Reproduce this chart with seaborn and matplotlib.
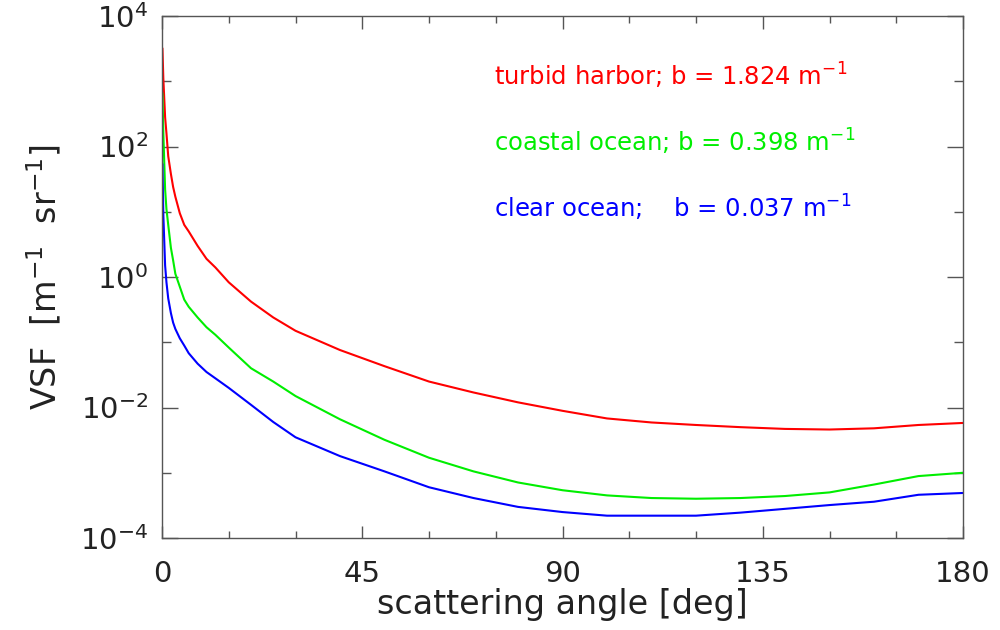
import numpy as np
import pandas as pd
import matplotlib
matplotlib.use("Agg")
import matplotlib.pyplot as plt
from matplotlib.ticker import FixedLocator, LogFormatterSciNotation, NullFormatter
import seaborn as sns

# Petzold volume scattering functions (514 nm)
angle_deg = [0.1, 0.3, 0.7, 1.0, 1.4, 2.0, 2.5, 3.0, 4.0, 5.0, 6.0, 8.0, 10,
             12, 15, 20, 25, 30, 40, 50, 60, 70, 80, 90, 100, 110, 120, 130,
             140, 150, 160, 170, 180]

vsf_turbid = [3.2e3, 1.1e3, 2.8e2, 160, 71, 38, 24, 17, 9.5, 6.3, 5.0, 3.0,
              1.9, 1.4, 0.83, 0.42, 0.24, 0.15, 0.076, 0.043, 0.025, 0.017,
              0.012, 8.9e-3, 6.8e-3, 5.9e-3, 5.4e-3, 5.0e-3, 4.7e-3, 4.6e-3,
              4.8e-3, 5.4e-3, 5.8e-3]

vsf_coastal = [660, 160, 22, 11, 6.3, 2.8, 1.8, 1.12, 0.71, 0.45, 0.35, 0.24,
               0.17, 0.13, 0.083, 0.040, 0.025, 0.015, 6.6e-3, 3.2e-3, 1.7e-3,
               1.05e-3, 7.1e-4, 5.4e-4, 4.5e-4, 4.1e-4, 4.0e-4, 4.1e-4, 4.4e-4,
               5.0e-4, 6.6e-4, 8.9e-4, 1.0e-3]

vsf_clear = [54, 8.9, 1.5, 0.83, 0.47, 0.28, 0.20, 0.16, 0.115, 0.089, 0.068,
             0.047, 0.035, 0.028, 0.020, 0.011, 6.0e-3, 3.5e-3, 1.8e-3, 1.05e-3,
             6.0e-4, 4.1e-4, 3.0e-4, 2.5e-4, 2.2e-4, 2.2e-4, 2.2e-4, 2.45e-4,
             2.8e-4, 3.2e-4, 3.6e-4, 4.6e-4, 4.9e-4]

water_types = ["turbid harbor", "coastal ocean", "clear ocean"]
labels = ["turbid harbor; b = 1.824 m$^{-1}$",
          "coastal ocean; b = 0.398 m$^{-1}$",
          "clear ocean;    b = 0.037 m$^{-1}$"]
colors = ["#ff0000", "#00ee00", "#0000ff"]

x_ticks = [0, 45, 90, 135, 180]
y_major = [1e-4, 1e-2, 1e0, 1e2, 1e4]
y_minor = [1e-3, 1e-1, 1e1, 1e3]

df = pd.concat([
    pd.DataFrame({"angle": angle_deg, "vsf": v, "water": w})
    for v, w in zip([vsf_turbid, vsf_coastal, vsf_clear], water_types)
])

sns.set_style("ticks")
plt.rcParams["font.family"] = ["DejaVu Sans"]
text_color = "#222222"
axis_color = "#555555"

fig = plt.figure(figsize=(10, 6.3), dpi=100)
ax = fig.add_axes([0.162, 0.146, 0.801, 0.8286])

sns.lineplot(data=df, x="angle", y="vsf", hue="water", hue_order=water_types,
             palette=dict(zip(water_types, colors)), estimator=None, sort=False,
             linewidth=1.5, legend=False, ax=ax)

ax.set_yscale("log")
ax.set_xlim(0, 180)
ax.set_ylim(1e-4, 1e4)

ax.xaxis.set_major_locator(FixedLocator(x_ticks))
ax.xaxis.set_minor_locator(FixedLocator(np.arange(0, 181, 15)))
ax.yaxis.set_major_locator(FixedLocator(y_major))
ax.yaxis.set_minor_locator(FixedLocator(y_minor))
ax.yaxis.set_major_formatter(LogFormatterSciNotation())
ax.yaxis.set_minor_formatter(NullFormatter())

ax.tick_params(axis="both", which="both", direction="in", top=True, right=True,
               color=axis_color, labelcolor=text_color, labelsize=21, width=1.0)
ax.tick_params(axis="x", which="major", length=9, pad=16)
ax.tick_params(axis="x", which="minor", length=5)
ax.tick_params(axis="y", which="major", length=11.5, pad=10)
ax.tick_params(axis="y", which="minor", length=6.5)

for spine in ax.spines.values():
    spine.set_color(axis_color)
    spine.set_linewidth(1.0)

ax.set_xlabel("scattering angle [deg]", fontsize=24, color=text_color, labelpad=0)
ax.set_ylabel("VSF  [m$^{-1}$  sr$^{-1}$]", fontsize=24, color=text_color, labelpad=12)

for i, (lab, col) in enumerate(zip(labels, colors)):
    ax.text(0.415, 0.885 - i * 0.126, lab, transform=ax.transAxes, color=col,
            fontsize=17.5, va="center", ha="left")

fig.savefig("out.png", dpi=100, facecolor="white")
